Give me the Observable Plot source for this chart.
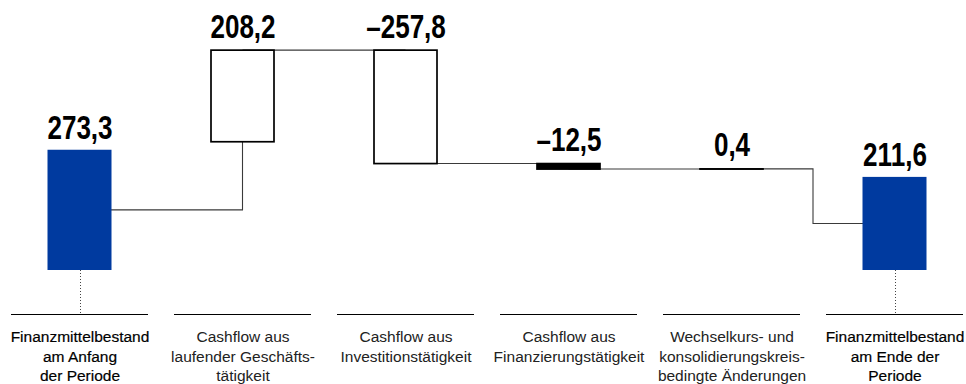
<!DOCTYPE html>
<html lang="de">
<head>
<meta charset="utf-8">
<script src="https://cdn.jsdelivr.net/npm/d3@7"></script>
<script src="https://cdn.jsdelivr.net/npm/@observablehq/plot@0.6"></script>
<style>
  html, body { margin: 0; padding: 0; background: #fff; }
  #chart svg { display: block; }
</style>
</head>
<body>
<div id="chart"></div>
<script>
// Überleitung des Finanzmittelbestands (Mio. €) als Wasserfall
const categories = [
  "Finanzmittelbestand\nam Anfang\nder Periode",
  "Cashflow aus\nlaufender Geschäfts-\ntätigkeit",
  "Cashflow aus\nInvestitionstätigkeit",
  "Cashflow aus\nFinanzierungstätigkeit",
  "Wechselkurs- und\nkonsolidierungskreis-\nbedingte Änderungen",
  "Finanzmittelbestand\nam Ende der\nPeriode"
];
const values = [273.3, 208.2, -257.8, -12.5, 0.4, 211.6];
const kinds = ["total", "flow", "flow", "flow", "flow", "total"];

// Running totals for the floating boxes
let running = 0;
const rows = categories.map((cat, i) => {
  const value = values[i];
  let from, to;
  if (kinds[i] === "total") { from = 0; to = value; }
  else { from = running; to = running + value; }
  running = to;
  return {cat, value, kind: kinds[i], from, to, top: Math.max(from, to)};
});
const totals = rows.filter(d => d.kind === "total");
const flows = rows.filter(d => d.kind === "flow");

const fmt = v => (v < 0 ? "\u2013" : "") + Math.abs(v).toFixed(1).replace(".", ",");

// Layout constants
const W = 966, H = 384;
const blue = "#003a9f";
const lift = 8;        // floating boxes sit a little above the totals
const baseGap = 44;    // zero line to the category rules
const barInset = 49.5; // bar width inside each band
const ruleInset = 13;
const pxPerUnit = 0.44;
const zeroY = H - 70 - baseGap;
const sans = "'Liberation Sans', Arial, sans-serif";
const condense = 0.79; // horizontal squeeze of the bold value labels

// Connector polylines: [row, "c" = band centre | "e" = band right edge, value, lifted]
const [rStart, rOp, rInv, rFin, rFx, rEnd] = rows;
const connectors = [
  [[rStart, "c", rStart.value / 2, false], [rOp, "c", rStart.value / 2, false], [rOp, "c", rOp.from, true]],
  [[rOp, "c", rOp.to, true], [rInv, "c", rInv.from, true]],
  [[rInv, "c", rInv.to, true], [rFin, "c", rFin.from, true]],
  [[rFin, "c", rFin.to, true], [rFx, "c", rFx.from, true]],
  [[rFx, "c", rFx.to, true], [rFx, "e", rFx.to, true], [rFx, "e", rEnd.value / 2, false], [rEnd, "c", rEnd.value / 2, false]]
];

function drawConnectors(index, scales) {
  const {x, y} = scales;
  const bw = x.bandwidth ? x.bandwidth() : 0;
  const px = (cat, pos) => x(cat) + (pos === "e" ? bw : bw / 2);
  const py = (v, lifted) => y(v) - (lifted ? lift : 0);
  const g = d3.create("svg:g")
    .attr("fill", "none")
    .attr("stroke", "#3a3a3a")
    .attr("stroke-width", 1.1);
  for (const pts of connectors) {
    g.append("path").attr("d", d3.line()(pts.map(([r, pos, v, l]) => [px(r.cat, pos), py(v, l)])));
  }
  return g.node();
}

const chart = Plot.plot({
  width: W,
  height: H,
  marginTop: 0,
  marginBottom: 70,
  marginLeft: 0,
  marginRight: 0,
  style: {background: "#fff"},
  x: {domain: categories, range: [-2.6, 976.6], padding: 0, axis: null},
  y: {domain: [0, 500], range: [zeroY, zeroY - 500 * pxPerUnit], axis: null},
  marks: [
    drawConnectors,
    // dotted drop lines under the totals
    Plot.ruleX(totals, {
      x: "cat", y1: 0, y2: 0, insetBottom: -baseGap, dx: 0.5,
      stroke: "#444", strokeWidth: 1, strokeDasharray: "1,2"
    }),
    // category rules
    Plot.tickY(categories, {x: d => d, y: 0, dy: baseGap, insetLeft: ruleInset, insetRight: ruleInset, stroke: "#000", strokeWidth: 1}),
    // totals
    Plot.barY(totals, {x: "cat", y: "value", fill: blue, insetLeft: barInset, insetRight: barInset}),
    // changes
    Plot.barY(flows, {
      x: "cat", y1: "from", y2: "to", dy: -lift,
      fill: d => Math.abs(d.value) * pxPerUnit < 8 ? "#000" : "#fff",
      stroke: "#000", strokeWidth: 1.7,
      insetLeft: barInset + 0.5, insetRight: barInset + 0.5
    }),
    // value labels
    Plot.text(totals, {
      ariaDescription: "Werte",
      x: "cat", y: "top", text: d => fmt(d.value), dy: -11, lineAnchor: "bottom",
      fontFamily: sans, fontWeight: "bold", fontSize: 33, fill: "#000"
    }),
    Plot.text(flows, {
      ariaDescription: "Werte",
      x: "cat", y: "top", text: d => fmt(d.value), dy: -13 - lift, lineAnchor: "bottom",
      fontFamily: sans, fontWeight: "bold", fontSize: 33, fill: "#000"
    }),
    // category labels
    Plot.text(rows, {
      x: "cat", text: "cat", frameAnchor: "bottom", lineAnchor: "top", dy: 13.5,
      fontFamily: sans, fontSize: 15.5, lineHeight: 1.27,
      fill: d => d.kind === "total" ? "#000" : "#222",
      stroke: d => d.kind === "total" ? "#000" : "none", strokeWidth: 0.2
    })
  ]
});

document.getElementById("chart").appendChild(chart);

// condensed look for the value labels
d3.select(chart).selectAll('g[aria-description="Werte"] text').each(function () {
  const w = this.getComputedTextLength();
  this.setAttribute("textLength", (w * condense).toFixed(1));
  this.setAttribute("lengthAdjust", "spacingAndGlyphs");
});
</script>
</body>
</html>
